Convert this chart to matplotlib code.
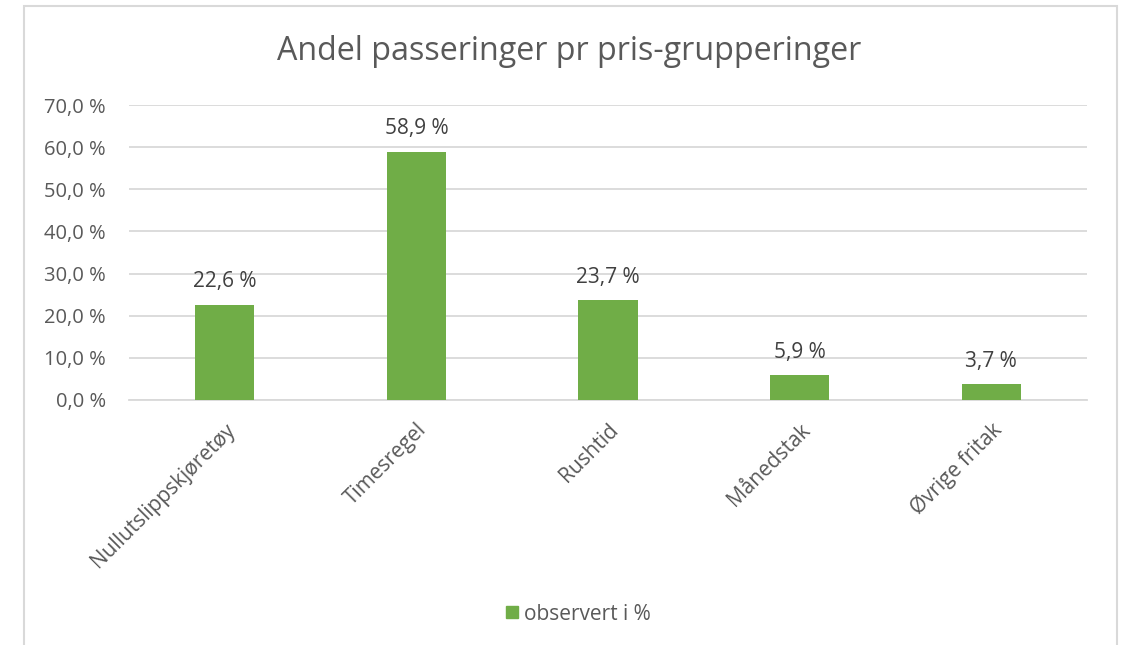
import matplotlib
matplotlib.use("Agg")
import matplotlib.pyplot as plt
from matplotlib.patches import Rectangle
from matplotlib.lines import Line2D

categories = ["Nullutslippskjøretøy", "Timesregel", "Rushtid", "Månedstak", "Øvrige fritak"]
values = [22.6, 58.9, 23.7, 5.9, 3.7]
yticks = [0, 10, 20, 30, 40, 50, 60, 70]
title = "Andel passeringer pr pris-grupperinger"
series_name = "observert i %"

plt.rcParams['font.family'] = ['Open Sans', 'DejaVu Sans']

W, H = 1127, 645
fig = plt.figure(figsize=(W / 100, H / 100), dpi=100)
green = "#70AD47"
grid_c = "#D9D9D9"
txt_c = "#595959"

# outer border
fig.patches.append(Rectangle((24 / W, -0.01), (1117 - 24) / W, (H - 6) / H + 0.01,
                             transform=fig.transFigure, fill=False,
                             edgecolor=grid_c, linewidth=1.5))

x0, x1 = 129, 1087
ytop, ybot = 105, 400
ax = fig.add_axes([x0 / W, 1 - ybot / H, (x1 - x0) / W, (ybot - ytop) / H])
ax.set_xlim(-0.5, len(categories) - 0.5)
ax.set_ylim(0, 70)

xs = list(range(len(categories)))
bars = ax.bar(xs, values, width=0.31, color=green, zorder=3)
for x, v in zip(xs, values):
    ax.annotate(f"{v:.1f} %".replace(".", ","), (x, v), xytext=(0, 9),
                textcoords="offset points", ha="center", va="bottom",
                fontsize=15, color="#404040")

ax.set_yticks(yticks)
ax.set_yticklabels([f"{t:.1f} %".replace(".", ",") for t in yticks],
                   fontsize=14.5, color=txt_c)
ax.grid(axis="y", color=grid_c, linewidth=1.3, zorder=0)
ax.set_xticks(xs)
ax.set_xticklabels(categories, rotation=45, ha="right", rotation_mode="anchor",
                   fontsize=15, color=txt_c)
ax.tick_params(axis="both", length=0)
ax.tick_params(axis="y", pad=16.5)
ax.tick_params(axis="x", pad=14)
for s in ["top", "right", "left"]:
    ax.spines[s].set_visible(False)
ax.spines["bottom"].set_color(grid_c)
ax.spines["bottom"].set_linewidth(1.3)

fig.text(569 / W, 1 - 51 / H, title, ha="center", va="center",
         fontsize=23.2, color=txt_c)

handle = Line2D([], [], marker="s", linestyle="none", markersize=8,
                markerfacecolor=green, markeredgecolor=green)
fig.legend([handle], [series_name], loc="center", bbox_to_anchor=(575 / W, 1 - 614 / H),
           frameon=False, fontsize=15, handletextpad=0.0, handlelength=1.2,
           labelcolor=txt_c)

fig.savefig("out.png", dpi=100)
